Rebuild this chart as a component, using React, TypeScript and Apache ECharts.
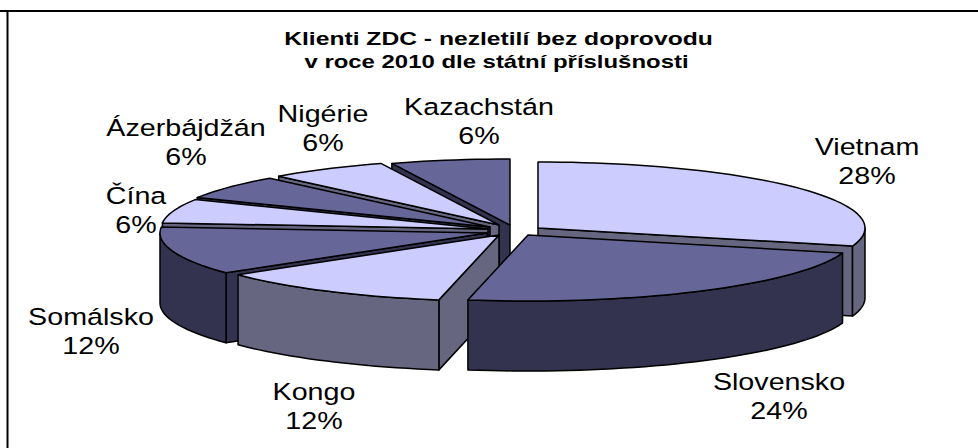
import React, { useEffect, useRef } from "react";
import * as echarts from "echarts";

const titleLines = ["Klienti ZDC - nezletilí bez doprovodu", "v roce 2010 dle státní příslušnosti"];
const categories = ["Vietnam", "Slovensko", "Kongo", "Somálsko", "Čína", "Ázerbájdžán", "Nigérie", "Kazachstán"];
const clients = [5, 4, 2, 2, 1, 1, 1, 1];
const percentLabels = ["28%", "24%", "12%", "12%", "6%", "6%", "6%", "6%"];

const W = 978;
const H = 448;
const RX = 327;
const RY = 66;
const DEPTH = 70;
const TOP_FILL = ["#CCCCFF", "#666699"];
const SIDE_FILL = ["#666680", "#33334F"];
// exploded apex of each slice, in pixels
const apexes = [[538, 228], [528, 235], [499, 235], [487, 233], [488, 229], [490, 227], [499, 225], [510, 225]];
// painter's order, back to front
const drawOrder = [7, 6, 5, 4, 3, 0, 2, 1];
// centre x and first-line baseline y of each label
const labelPos = [[867, 154], [779, 389], [314, 399], [91, 324], [136, 203], [186, 135], [323, 121], [479, 114]];

const total = clients.reduce((a, b) => a + b, 0);
const startAngles: number[] = [];
clients.reduce((acc, v) => {
  startAngles.push((acc / total) * 360);
  return acc + v;
}, 0);

function rim(ax: number, ay: number, deg: number, dy = 0): number[] {
  const t = (deg * Math.PI) / 180;
  return [ax + RX * Math.sin(t), ay - RY * Math.cos(t) + dy];
}
function arc(ax: number, ay: number, a0: number, a1: number, dy = 0): number[][] {
  const n = Math.max(2, Math.ceil(Math.abs(a1 - a0) / 2));
  const pts: number[][] = [];
  for (let k = 0; k <= n; k++) pts.push(rim(ax, ay, a0 + ((a1 - a0) * k) / n, dy));
  return pts;
}

function renderSlice(params: any) {
  const i = drawOrder[params.dataIndex];
  const [ax, ay] = apexes[i];
  const a0 = startAngles[i];
  const a1 = a0 + (clients[i] / total) * 360;
  const tone = i % 2;
  const lineStyle = { stroke: "#000", lineWidth: 1.5, lineJoin: "round" };
  const side = { fill: SIDE_FILL[tone], ...lineStyle };
  const children: any[] = [];
  const radialWall = (deg: number) => {
    const p = rim(ax, ay, deg);
    children.push({
      type: "polygon",
      shape: { points: [[ax, ay], p, [p[0], p[1] + DEPTH], [ax, ay + DEPTH]] },
      style: side,
    });
  };
  if (Math.sin((a0 * Math.PI) / 180) < -1e-6) radialWall(a0);
  if (Math.sin((a1 * Math.PI) / 180) > 1e-6) radialWall(a1);
  const o0 = Math.max(a0, 90);
  const o1 = Math.min(a1, 270);
  if (o1 > o0) {
    children.push({
      type: "polygon",
      shape: { points: [...arc(ax, ay, o0, o1), ...arc(ax, ay, o1, o0, DEPTH)] },
      style: side,
    });
  }
  children.push({
    type: "polygon",
    shape: { points: [[ax, ay], ...arc(ax, ay, a0, a1)] },
    style: { fill: TOP_FILL[tone], ...lineStyle },
  });
  return { type: "group", children };
}

const FONT = '"Liberation Sans", Arial, sans-serif';

function textEl(text: string, x: number, y: number, fontSize: number, fontWeight: string, scaleX: number) {
  return {
    type: "text",
    x,
    y,
    scaleX,
    style: { text, fontFamily: FONT, fontSize, fontWeight, fill: "#000", textAlign: "center", textVerticalAlign: "bottom" },
    silent: true,
  };
}

export default function App() {
  const ref = useRef<HTMLDivElement>(null);
  useEffect(() => {
    document.body.style.margin = "0";
    const chart = echarts.init(ref.current!, undefined, { renderer: "svg" });
    const labels: any[] = [];
    categories.forEach((c, i) => {
      const [x, y] = labelPos[i];
      labels.push(textEl(c, x, y + 5, 23.5, "normal", 1.22));
      labels.push(textEl(percentLabels[i], x, y + 34, 23.5, "normal", 1.22));
    });
    chart.setOption({
      animation: false,
      backgroundColor: "#fff",
      series: [
        {
          type: "custom",
          coordinateSystem: "none",
          renderItem: renderSlice,
          data: drawOrder.map((i) => [i, clients[i]]),
          silent: true,
        },
      ],
      graphic: [
        { type: "line", shape: { x1: 0, y1: 11, x2: W, y2: 11 }, style: { stroke: "#000", lineWidth: 2 } },
        { type: "line", shape: { x1: 7.5, y1: 10, x2: 7.5, y2: H }, style: { stroke: "#000", lineWidth: 2 } },
        textEl(titleLines[0], 498.5, 48, 18, "bold", 1.37),
        textEl(titleLines[1], 496.5, 71, 18, "bold", 1.33),
        ...labels,
      ],
    });
    return () => chart.dispose();
  }, []);
  return <div ref={ref} style={{ width: W, height: H }} />;
}
